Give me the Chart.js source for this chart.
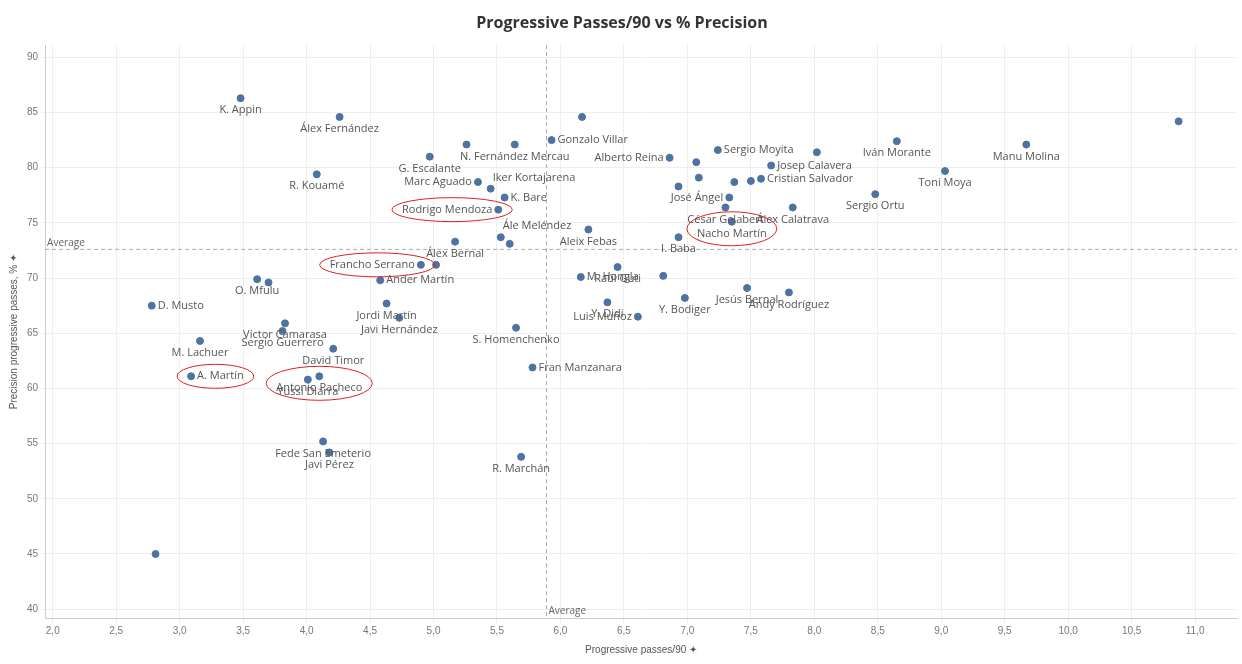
<!DOCTYPE html>
<html>
<head>
<meta charset="utf-8">
<script src="https://cdn.jsdelivr.net/npm/chart.js@4"></script>
<style>
  body { margin: 0; background: #fff; font-family: "Open Sans", sans-serif; }
  #wrap { width: 1242px; height: 664px; position: relative; }
</style>
</head>
<body>
<div id="wrap"><canvas id="chart" width="1242" height="664"></canvas></div>
<script>
const players = ["K. Appin","Álex Fernández","R. Kouamé","G. Escalante","","N. Fernández Mercau","Gonzalo Villar","",
  "Marc Aguado","Iker Kortajarena","K. Bare","Rodrigo Mendoza","Ále Meléndez","","Álex Bernal","Francho Serrano","",
  "Aleix Febas","Alberto Reina","","Sergio Moyita","","Josep Calavera","","","","","Cristian Salvador","José Ángel",
  "César Gelabert","Nacho Martín","Álex Calatrava","I. Baba","Sergio Ortu","Iván Morante","Manu Molina","Toni Moya",
  "","Raúl Guti","M. Hongla","","Jesús Bernal","Andy Rodríguez","Y. Bodiger","Y. Didi","Luis Muñoz","O. Mfulu","",
  "Ander Martín","Jordi Martín","Javi Hernández","D. Musto","Víctor Camarasa","Sergio Guerrero","M. Lachuer",
  "David Timor","S. Homenchenko","Fran Manzanara","Antonio Pacheco","Yussi Diarra","A. Martín","Fede San Emeterio",
  "Javi Pérez","R. Marchán"];
const passes90 = [3.48,4.26,4.08,4.97,5.26,5.64,5.93,6.17,
  5.35,5.45,5.56,5.51,5.53,5.60,5.17,4.90,5.02,
  6.22,6.86,7.07,7.24,8.02,7.66,7.09,6.93,7.37,7.50,7.58,7.33,7.30,
  7.35,7.83,6.93,8.48,8.65,9.67,9.03,10.87,
  6.45,6.16,6.81,7.47,7.80,6.98,6.37,6.61,3.61,3.70,4.58,
  4.63,4.73,2.78,3.83,3.81,3.16,4.21,
  5.65,5.78,4.10,4.01,3.09,4.13,4.18,
  5.69,2.81];
const precision = [86.3,84.6,79.4,81.0,82.1,82.1,82.5,84.6,
  78.7,78.1,77.3,76.2,73.7,73.1,73.3,71.2,71.2,
  74.4,80.9,80.5,81.6,81.4,80.2,79.1,78.3,78.7,78.8,79.0,77.3,76.4,
  75.1,76.4,73.7,77.6,82.4,82.1,79.7,84.2,
  71.0,70.1,70.2,69.1,68.7,68.2,67.8,66.5,69.9,69.6,69.8,
  67.7,66.4,67.5,65.9,65.2,64.3,63.6,
  65.5,61.9,61.1,60.8,61.1,55.2,54.2,
  53.8,45.0];
// where the name sits: b below, r right, l left, t top
const labelSide = ["b","b","b","b","b","b","r","b",
  "l","t","r","l","t","b","b","l","b",
  "b","l","b","r","b","r","b","b","b","b","r","l",
  "b","b","b","b","b","b","b","b",
  "b","b","r","b","b","b","b","b","l","b","b",
  "r","b","b","r","b","b","b",
  "b","b","r","b","b","r","b",
  "b","b"];
const highlighted = ["Rodrigo Mendoza","Francho Serrano","Antonio Pacheco","A. Martín","Nacho Martín"];
const avgPasses = 5.89;
const avgPrecision = 72.6;
const xTicks = [2,2.5,3,3.5,4,4.5,5,5.5,6,6.5,7,7.5,8,8.5,9,9.5,10,10.5,11];
const yTicks = [40,45,50,55,60,65,70,75,80,85,90];

function labelBox(ctx, side, px, py, text) {
  const w = ctx.measureText(text).width;
  if (side === "r") return { x: px + 6, y: py, w };
  if (side === "l") return { x: px - 6 - w, y: py, w };
  if (side === "t") return { x: px + 2, y: py - 11, w };
  return { x: px - w / 2, y: py + 12, w };
}

const labelsPlugin = {
  id: "labels",
  afterDatasetsDraw(chart) {
    const { ctx, scales: { x, y }, chartArea } = chart;
    ctx.save();
    ctx.setLineDash([4, 3]);
    ctx.strokeStyle = "#aaa";
    ctx.lineWidth = 1;
    const ax = x.getPixelForValue(avgPasses), ay = y.getPixelForValue(avgPrecision);
    ctx.beginPath();
    ctx.moveTo(ax, chartArea.top); ctx.lineTo(ax, chartArea.bottom);
    ctx.moveTo(chartArea.left, ay); ctx.lineTo(chartArea.right, ay);
    ctx.stroke();
    ctx.setLineDash([]);
    ctx.font = "10px 'Open Sans', sans-serif";
    ctx.fillStyle = "#666";
    ctx.textBaseline = "bottom";
    ctx.fillText("Average", chartArea.left + 2, ay - 1);
    ctx.fillText("Average", ax + 2, chartArea.bottom - 2);

    ctx.font = "11px 'Open Sans', sans-serif";
    ctx.textBaseline = "middle";
    const meta = chart.getDatasetMeta(0);
    meta.data.forEach((pt, i) => {
      const name = players[i];
      if (!name) return;
      const b = labelBox(ctx, labelSide[i], pt.x, pt.y, name);
      ctx.fillStyle = "#555";
      ctx.fillText(name, b.x, b.y);
      if (highlighted.includes(name)) {
        const l = Math.min(b.x, pt.x - 4), r = Math.max(b.x + b.w, pt.x + 4);
        const t = Math.min(b.y - 6, pt.y - 4), bt = Math.max(b.y + 6, pt.y + 4);
        ctx.strokeStyle = "#e02020";
        ctx.lineWidth = 1;
        ctx.beginPath();
        ctx.ellipse((l + r) / 2, (t + bt) / 2, (r - l) / 2 + 10, (bt - t) / 2 + 6, 0, 0, Math.PI * 2);
        ctx.stroke();
      }
    });
    ctx.restore();
  }
};

const points = passes90.map((v, i) => ({ x: v, y: precision[i] }));

new Chart(document.getElementById("chart"), {
  type: "scatter",
  data: { datasets: [{ data: points, backgroundColor: "#4e73a1", borderColor: "#4e73a1", pointRadius: 3.5, pointHoverRadius: 4 }] },
  options: {
    responsive: false,
    animation: false,
    devicePixelRatio: 1,
    layout: { padding: { top: 4, right: 2, left: 4, bottom: 4 } },
    plugins: {
      legend: { display: false },
      tooltip: { enabled: false },
      title: { display: true, text: "Progressive Passes/90 vs % Precision", color: "#333",
        font: { size: 16, family: "'Open Sans', sans-serif" }, padding: { top: 10, bottom: 12 } }
    },
    scales: {
      x: {
        min: 1.94, max: 11.33,
        afterBuildTicks: s => { s.ticks = xTicks.map(v => ({ value: v })); },
        ticks: { color: "#777", font: { size: 10 }, callback: v => v.toFixed(1).replace(".", ","), maxRotation: 0 },
        grid: { color: "#eee", tickLength: 4 },
        border: { color: "#ccc" },
        title: { display: true, text: "Progressive passes/90 ✦", color: "#555", font: { size: 10 } }
      },
      y: {
        min: 39.2, max: 91.1,
        afterBuildTicks: s => { s.ticks = yTicks.map(v => ({ value: v })); },
        ticks: { color: "#777", font: { size: 10 } },
        grid: { color: "#eee", tickLength: 4 },
        border: { color: "#ccc" },
        title: { display: true, text: "Precision progressive passes, % ✦", color: "#555", font: { size: 10 } }
      }
    }
  },
  plugins: [labelsPlugin]
});
</script>
</body>
</html>
